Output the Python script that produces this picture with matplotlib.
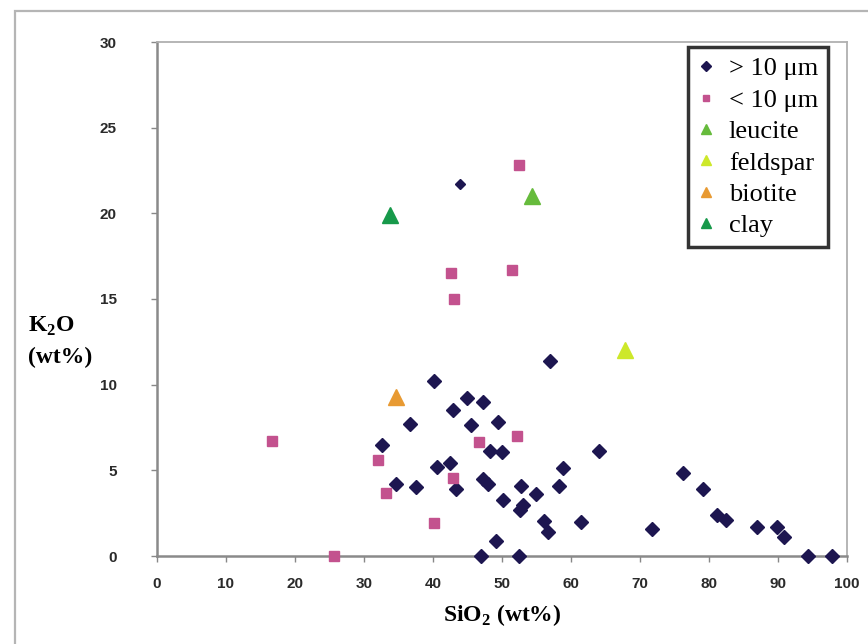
import matplotlib
matplotlib.use('Agg')
import matplotlib.pyplot as plt
from matplotlib import font_manager
from matplotlib.patches import Rectangle

# K2O vs SiO2 scatter, particle size classes and reference minerals

#   > 10 um particles (first point drawn smaller, as in the source figure)
big_x = [43.9, 56.9, 40.2, 44.9, 47.3, 42.9, 36.6, 45.5, 49.4, 32.6,
         48.2, 50.0, 64.1, 40.6, 42.4, 58.9, 34.6, 37.6, 43.3, 47.3,
         47.9, 52.8, 58.3, 54.9, 50.2, 53.0, 52.6, 56.1, 61.5, 56.6,
         49.2, 47.0, 52.5, 71.8, 76.2, 79.2, 81.1, 82.5, 87.0, 89.8,
         90.9, 94.4, 97.8]
big_y = [21.7, 11.4, 10.2, 9.2, 9.0, 8.5, 7.7, 7.65, 7.8, 6.5,
         6.15, 6.06, 6.1, 5.2, 5.4, 5.15, 4.2, 4.0, 3.9, 4.5,
         4.2, 4.1, 4.07, 3.6, 3.26, 2.97, 2.67, 2.03, 1.96, 1.4,
         0.9, 0.0, 0.0, 1.6, 4.85, 3.9, 2.4, 2.13, 1.7, 1.7,
         1.12, 0.0, 0.0]

#   < 10 um particles
small_x = [16.6, 25.7, 32.1, 33.2, 40.2, 42.9, 46.6, 52.2, 52.4, 42.6, 51.4, 43.0]
small_y = [6.7, 0.0, 5.6, 3.7, 1.9, 4.55, 6.65, 7.0, 22.8, 16.5, 16.7, 15.0]

#   reference minerals
mineral_names = ['leucite', 'feldspar', 'biotite', 'clay']
mineral_x = [54.4, 67.8, 34.6, 33.8]
mineral_y = [21.0, 12.0, 9.3, 19.9]
mineral_colors = ['#66bb3c', '#cde82a', '#e89a32', '#17994a']

x_ticks = [0, 10, 20, 30, 40, 50, 60, 70, 80, 90, 100]
y_ticks = [0, 5, 10, 15, 20, 25, 30]

names = {f.name for f in font_manager.fontManager.ttflist}
tick_font = 'Liberation Sans Narrow' if 'Liberation Sans Narrow' in names else 'Liberation Sans'
serif = 'Liberation Serif'

plt.rcParams['mathtext.fontset'] = 'custom'
plt.rcParams['mathtext.rm'] = serif
plt.rcParams['mathtext.bf'] = serif + ':bold'

fig = plt.figure(figsize=(8.68, 6.44), dpi=100)
fig.patches.append(Rectangle((15/868, -0.1), 1.2, 1.1 - 11/644, transform=fig.transFigure,
                             fill=False, edgecolor='#b5b5b5', linewidth=1.6))

ax = fig.add_axes([157/868, 1 - 556/644, 690/868, 514/644])

ax.plot(big_x[:1], big_y[:1], 'D', color='#1d1650', markersize=5, clip_on=False, zorder=3)
ax.plot(big_x[1:], big_y[1:], 'D', color='#1d1650', markersize=7, clip_on=False,
        zorder=3, label='> 10 μm')
ax.plot(small_x, small_y, 's', color='#c3528e', markersize=7, clip_on=False,
        zorder=3, label='< 10 μm')
for name, mx, my, c in zip(mineral_names, mineral_x, mineral_y, mineral_colors):
    ax.plot([mx], [my], '^', color=c, markersize=11, clip_on=False, zorder=3, label=name)

ax.set_xlim(0, 100)
ax.set_ylim(0, 30)
ax.set_xticks(x_ticks)
ax.set_yticks(y_ticks)
for lab in ax.get_xticklabels() + ax.get_yticklabels():
    lab.set_fontfamily(tick_font)
    lab.set_fontsize(11)
    lab.set_fontweight('bold')
    lab.set_color('#2a2a2a')
ax.tick_params(axis='x', direction='out', length=4, width=1, color='#888888', pad=11)
ax.tick_params(axis='y', direction='out', length=4, width=1, color='#888888', pad=25)

for side in ['left', 'bottom']:
    ax.spines[side].set_color('#8a8a8a')
    ax.spines[side].set_linewidth(1.8)
for side in ['top', 'right']:
    ax.spines[side].set_color('#b0b0b0')
    ax.spines[side].set_linewidth(1.3)

ax.set_xlabel(r'SiO$_\mathbf{2}$ (wt%)', fontfamily=serif, fontweight='bold',
              fontsize=17, labelpad=8)
fig.text(28/868, 1 - 326/644, r'K$_\mathbf{2}$O', fontfamily=serif, fontweight='bold',
         fontsize=17, ha='left', va='center')
fig.text(28/868, 1 - 357/644, '(wt%)', fontfamily=serif, fontweight='bold',
         fontsize=17, ha='left', va='center')

leg = ax.legend(loc='upper right', bbox_to_anchor=(828/868, 1 - 47/644),
                bbox_transform=fig.transFigure, borderaxespad=0,
                prop={'family': serif, 'size': 19}, frameon=True, fancybox=False,
                labelspacing=0.3, handletextpad=0.55, handlelength=0.6,
                borderpad=0.38, markerscale=0.7)
leg.get_frame().set_edgecolor('black')
leg.get_frame().set_linewidth(2.5)

fig.savefig('out.png', dpi=100)
